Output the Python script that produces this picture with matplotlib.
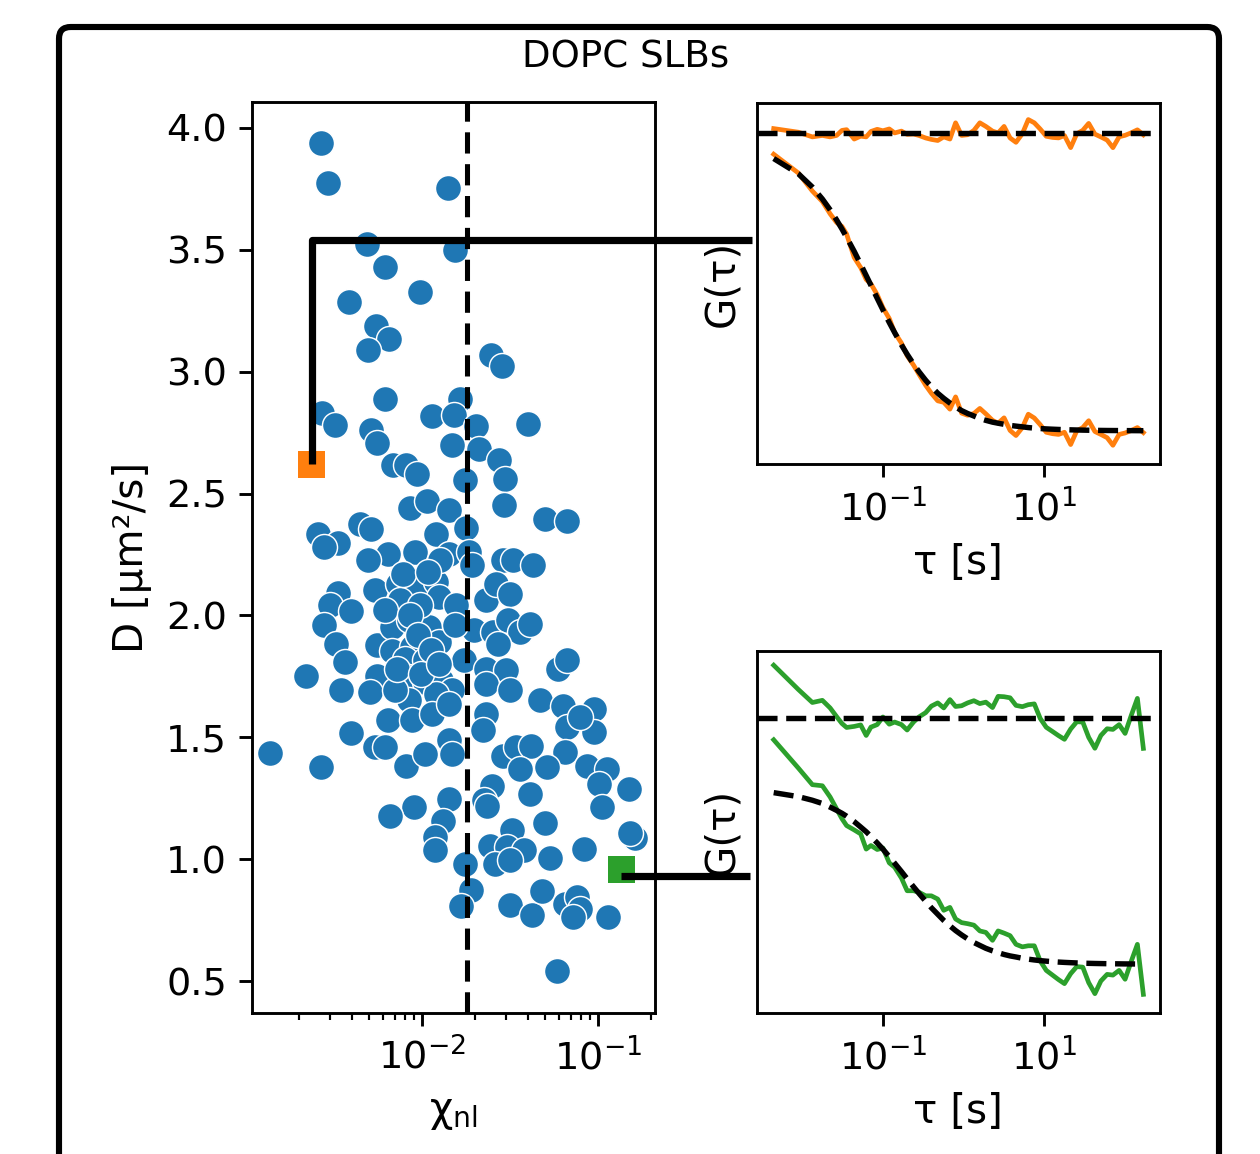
import matplotlib
matplotlib.use("Agg")
import matplotlib.pyplot as plt
import numpy as np
from matplotlib.patches import FancyBboxPatch
from matplotlib.lines import Line2D
from matplotlib.ticker import LogLocator, NullLocator, FixedLocator

plt.rcParams['font.family'] = ['DejaVu Sans']
plt.rcParams['font.size'] = 10
plt.rcParams['xtick.labelsize'] = 10.6
plt.rcParams['ytick.labelsize'] = 10.6
plt.rcParams['axes.labelsize'] = 11.2
plt.rcParams['mathtext.fontset'] = 'dejavusans'

# ---------------- data ----------------
chi_nl = [0.00266, 0.00291, 0.01393, 0.00485, 0.01526, 0.00614, 0.00974, 0.00383, 0.00548, 0.00649,
          0.00492, 0.02456, 0.02841, 0.00614, 0.01632, 0.01137, 0.01514, 0.02016, 0.04002, 0.00268,
          0.00321, 0.00514, 0.0055, 0.01481, 0.02089, 0.02721, 0.00684, 0.0081, 0.00933, 0.01751,
          0.02943, 0.02894, 0.00855, 0.01065, 0.01416, 0.01204, 0.01767, 0.04998, 0.06622, 0.00254,
          0.00331, 0.00277, 0.00441, 0.00514, 0.00904, 0.00641, 0.00492, 0.01416, 0.01845, 0.02867,
          0.03272, 0.04262, 0.01924, 0.00538, 0.00331, 0.00297, 0.00395, 0.00732, 0.00913, 0.01189,
          0.01243, 0.01548, 0.02301, 0.02627, 0.03133, 0.00277, 0.00324, 0.0055, 0.0067, 0.00835,
          0.01089, 0.0067, 0.00873, 0.01243, 0.01972, 0.02512, 0.03064, 0.03576, 0.04081, 0.02685,
          0.00362, 0.00218, 0.0055, 0.008, 0.01728, 0.02301, 0.02997, 0.05926, 0.06622, 0.00346,
          0.00503, 0.00835, 0.01041, 0.01269, 0.01481, 0.00835, 0.01189, 0.02301, 0.03133, 0.04658,
          0.06335, 0.09417, 0.00395, 0.00641, 0.00873, 0.01137, 0.01416, 0.02301, 0.02201, 0.06622,
          0.09417, 0.07901, 0.00137, 0.00266, 0.00538, 0.00614, 0.00811, 0.01041, 0.01416, 0.01481,
          0.02867, 0.0342, 0.04168, 0.06478, 0.08628, 0.1123, 0.05084, 0.03576, 0.1004, 0.1487,
          0.105, 0.04108, 0.02489, 0.0223, 0.02331, 0.01411, 0.00893, 0.00652, 0.01311, 0.01185,
          0.01185, 0.03234, 0.04998, 0.1623, 0.02434, 0.03028, 0.03763, 0.02599, 0.03162, 0.05337,
          0.08253, 0.01739, 0.01891, 0.01659, 0.03133, 0.04201, 0.04786, 0.06494, 0.07568, 0.07901,
          0.07181, 0.1129, 0.05826, 0.0075, 0.00974, 0.0104, 0.00702, 0.0154, 0.01266, 0.00616,
          0.152, 0.0085, 0.0095, 0.0112, 0.0072, 0.0098, 0.0125, 0.0078, 0.0108]
D_um2s = [3.935, 3.774, 3.753, 3.521, 3.498, 3.428, 3.327, 3.286, 3.186, 3.133,
          3.087, 3.067, 3.022, 2.889, 2.889, 2.818, 2.821, 2.776, 2.784, 2.830,
          2.779, 2.759, 2.707, 2.698, 2.684, 2.639, 2.616, 2.616, 2.578, 2.554,
          2.561, 2.452, 2.441, 2.469, 2.431, 2.333, 2.359, 2.397, 2.387, 2.333,
          2.297, 2.281, 2.374, 2.356, 2.260, 2.251, 2.226, 2.253, 2.260, 2.226,
          2.226, 2.205, 2.205, 2.103, 2.092, 2.041, 2.017, 2.130, 2.110, 2.137,
          2.075, 2.041, 2.062, 2.130, 2.087, 1.959, 1.884, 1.877, 1.952, 1.980,
          1.952, 1.856, 1.870, 1.891, 1.939, 1.932, 1.980, 1.932, 1.966, 1.884,
          1.809, 1.754, 1.754, 1.823, 1.816, 1.782, 1.775, 1.782, 1.816, 1.693,
          1.686, 1.747, 1.727, 1.734, 1.693, 1.652, 1.679, 1.720, 1.693, 1.652,
          1.631, 1.618, 1.518, 1.570, 1.570, 1.597, 1.638, 1.597, 1.529, 1.542,
          1.522, 1.583, 1.436, 1.378, 1.460, 1.460, 1.381, 1.433, 1.488, 1.433,
          1.426, 1.460, 1.467, 1.440, 1.385, 1.372, 1.378, 1.372, 1.310, 1.290,
          1.214, 1.269, 1.303, 1.242, 1.221, 1.249, 1.214, 1.177, 1.157, 1.094,
          1.039, 1.119, 1.150, 1.089, 1.057, 1.050, 1.039, 0.982, 0.996, 1.007,
          1.042, 0.982, 0.875, 0.808, 0.815, 0.773, 0.870, 0.818, 0.845, 0.797,
          0.763, 0.763, 0.541, 2.062, 2.041, 1.816, 1.693, 1.959, 2.226, 2.021,
          1.110, 2.000, 1.920, 1.860, 1.780, 1.760, 1.800, 2.170, 2.180]

chi_threshold = 0.0179
sel_orange = (0.00236, 2.619)   # (chi_nl, D) of highlighted curve 1
sel_green = (0.1364, 0.959)     # (chi_nl, D) of highlighted curve 2

tau_s = [0.0044, 0.0089, 0.0133, 0.0177, 0.0221, 0.0266, 0.031, 0.0354, 0.044, 0.053,
         0.062, 0.071, 0.085, 0.1, 0.12, 0.14, 0.17, 0.2, 0.24, 0.28,
         0.34, 0.4, 0.48, 0.57, 0.68, 0.8, 0.95, 1.13, 1.35, 1.6,
         1.9, 2.3, 2.7, 3.2, 3.8, 4.5, 5.4, 6.4, 7.6, 9.0,
         10.7, 12.8, 15.2, 18, 21.5, 25.6, 30.4, 36, 43, 51,
         61, 72, 86, 102, 122, 145, 172]

G_fit_orange = [0.845, 0.803, 0.766, 0.733, 0.703, 0.675, 0.650, 0.627, 0.588, 0.552,
                0.521, 0.494, 0.458, 0.426, 0.391, 0.363, 0.329, 0.303, 0.276, 0.255,
                0.231, 0.213, 0.195, 0.181, 0.168, 0.157, 0.147, 0.139, 0.132, 0.125,
                0.120, 0.115, 0.112, 0.109, 0.106, 0.104, 0.102, 0.100, 0.0985, 0.0973,
                0.0963, 0.0955, 0.0948, 0.0942, 0.0937, 0.0933, 0.0929, 0.0926, 0.0923, 0.0921,
                0.0919, 0.0918, 0.0917, 0.0916, 0.0915, 0.0914, 0.0913]
G_data_orange = [0.857, 0.805, 0.755, 0.726, 0.692, 0.668, 0.657, 0.636, 0.571, 0.543,
                 0.510, 0.498, 0.468, 0.432, 0.402, 0.363, 0.334, 0.299, 0.273, 0.248,
                 0.217, 0.195, 0.174, 0.170, 0.151, 0.185, 0.140, 0.134, 0.139, 0.153,
                 0.138, 0.120, 0.112, 0.127, 0.092, 0.078, 0.100, 0.137, 0.1265, 0.108,
                 0.087, 0.083, 0.081, 0.087, 0.053, 0.091, 0.100, 0.119, 0.089, 0.081,
                 0.072, 0.051, 0.081, 0.085, 0.092, 0.100, 0.086]
resid_offset_orange = 0.916

G_fit_green = [0.608, 0.597, 0.587, 0.578, 0.568, 0.559, 0.551, 0.543, 0.528, 0.513,
               0.500, 0.487, 0.469, 0.452, 0.431, 0.413, 0.390, 0.370, 0.348, 0.330,
               0.308, 0.290, 0.272, 0.255, 0.240, 0.227, 0.215, 0.204, 0.194, 0.186,
               0.178, 0.171, 0.166, 0.161, 0.157, 0.154, 0.1505, 0.148, 0.1458, 0.144,
               0.1425, 0.1411, 0.140, 0.1391, 0.1383, 0.1376, 0.137, 0.1365, 0.1361, 0.1358,
               0.1355, 0.1353, 0.1351, 0.1349, 0.1348, 0.1346, 0.1345]
G_data_green = [0.754, 0.676, 0.630, 0.627, 0.596, 0.563, 0.536, 0.517, 0.505, 0.494,
                0.452, 0.462, 0.451, 0.455, 0.414, 0.402, 0.372, 0.337, 0.337, 0.333,
                0.323, 0.323, 0.314, 0.283, 0.291, 0.259, 0.249, 0.246, 0.242, 0.226,
                0.222, 0.200, 0.226, 0.220, 0.213, 0.189, 0.182, 0.185, 0.185, 0.143,
                0.117, 0.104, 0.0915, 0.0804, 0.108, 0.1275, 0.126, 0.0832, 0.0527, 0.0877,
                0.106, 0.104, 0.117, 0.0925, 0.143, 0.189, 0.0508]
resid_offset_green = 0.814

# ---------------- figure ----------------
W, H, DPI = 1260, 1154, 260
fig = plt.figure(figsize=(W / DPI, H / DPI), dpi=DPI)

# outer rounded frame (in inches)
frame = FancyBboxPatch((59 / DPI, -0.3), (1219 - 59) / DPI, (H - 27) / DPI + 0.3,
                       boxstyle="round,pad=0,rounding_size=0.045",
                       transform=fig.dpi_scale_trans, fill=False,
                       edgecolor='black', linewidth=1.7, zorder=0)
fig.patches.append(frame)

fig.text(0.4967, 0.9506, "DOPC SLBs", ha='center', va='center', fontsize=10.3)

ax = fig.add_axes([0.2002, 0.1225, 0.3193, 0.7887])
ax1 = fig.add_axes([0.6009, 0.5982, 0.3194, 0.3129])
ax2 = fig.add_axes([0.6009, 0.1224, 0.3194, 0.3137])

blue = '#1f77b4'
orange = '#ff7f0e'
green = '#2ca02c'

ax.scatter(chi_nl, D_um2s, s=52, c=blue, edgecolors='white', linewidths=0.4, zorder=2)
ax.axvline(chi_threshold, color='black', lw=1.4, linestyle=(0, (4.2, 2.1)), zorder=3)
ax.scatter([sel_orange[0]], [sel_orange[1]], s=56, marker='s', c=orange,
           edgecolors='none', zorder=4)
ax.scatter([sel_green[0]], [sel_green[1]], s=56, marker='s', c=green,
           edgecolors='none', zorder=4)
ax.set_xscale('log')
ax.set_xlim(1.08e-3, 0.209)
ax.set_ylim(0.372, 4.103)
ax.set_yticks([0.5, 1.0, 1.5, 2.0, 2.5, 3.0, 3.5, 4.0])
ax.xaxis.set_major_locator(FixedLocator([1e-2, 1e-1]))
ax.xaxis.set_minor_locator(LogLocator(base=10, subs=np.arange(2, 10), numticks=20))
ax.set_xlabel('χ$_\\mathregular{nl}$')
ax.set_ylabel('D [µm²/s]')

tau = np.array(tau_s)
for a, fit, dat, off, col in [(ax1, G_fit_orange, G_data_orange, resid_offset_orange, orange),
                              (ax2, G_fit_green, G_data_green, resid_offset_green, green)]:
    fit = np.array(fit)
    dat = np.array(dat)
    a.plot(tau, dat - fit + off, color=col, lw=1.3, zorder=2)
    a.plot(tau, dat, color=col, lw=1.3, zorder=2)
    a.axhline(off, color='black', lw=1.5, linestyle='--', zorder=3)
    a.plot(tau, fit, color='black', lw=1.5, linestyle='--', zorder=3)
    a.set_xscale('log')
    a.set_xlim(0.00274, 273.5)
    a.set_ylim(0, 1)
    a.set_xticks([0.1, 10])
    a.xaxis.set_minor_locator(NullLocator())
    a.set_yticks([])
    a.set_xlabel('τ [s]')
    a.set_ylabel('G(τ)')

# connector lines (figure coordinates computed from the axes transforms)
inv = fig.transFigure.inverted()
orange_corner_D = 3.54
green_link_D = 0.932
p0 = ax.transData.transform(sel_orange)
p1 = ax.transData.transform((sel_orange[0], orange_corner_D))
p2 = (ax1.transAxes.transform((-0.013, 0.5))[0], p1[1])
pts = inv.transform([p0, p1, p2])
fig.lines.append(Line2D(pts[:, 0], pts[:, 1], transform=fig.transFigure,
                        color='black', lw=2.0, solid_capstyle='butt', zorder=5))
q0 = ax.transData.transform((sel_green[0] * 0.985, green_link_D))
q1 = (ax2.transAxes.transform((-0.018, 0.5))[0], q0[1])
pts = inv.transform([q0, q1])
fig.lines.append(Line2D(pts[:, 0], pts[:, 1], transform=fig.transFigure,
                        color='black', lw=2.0, solid_capstyle='butt', zorder=5))

fig.savefig('out.png', dpi=DPI)
